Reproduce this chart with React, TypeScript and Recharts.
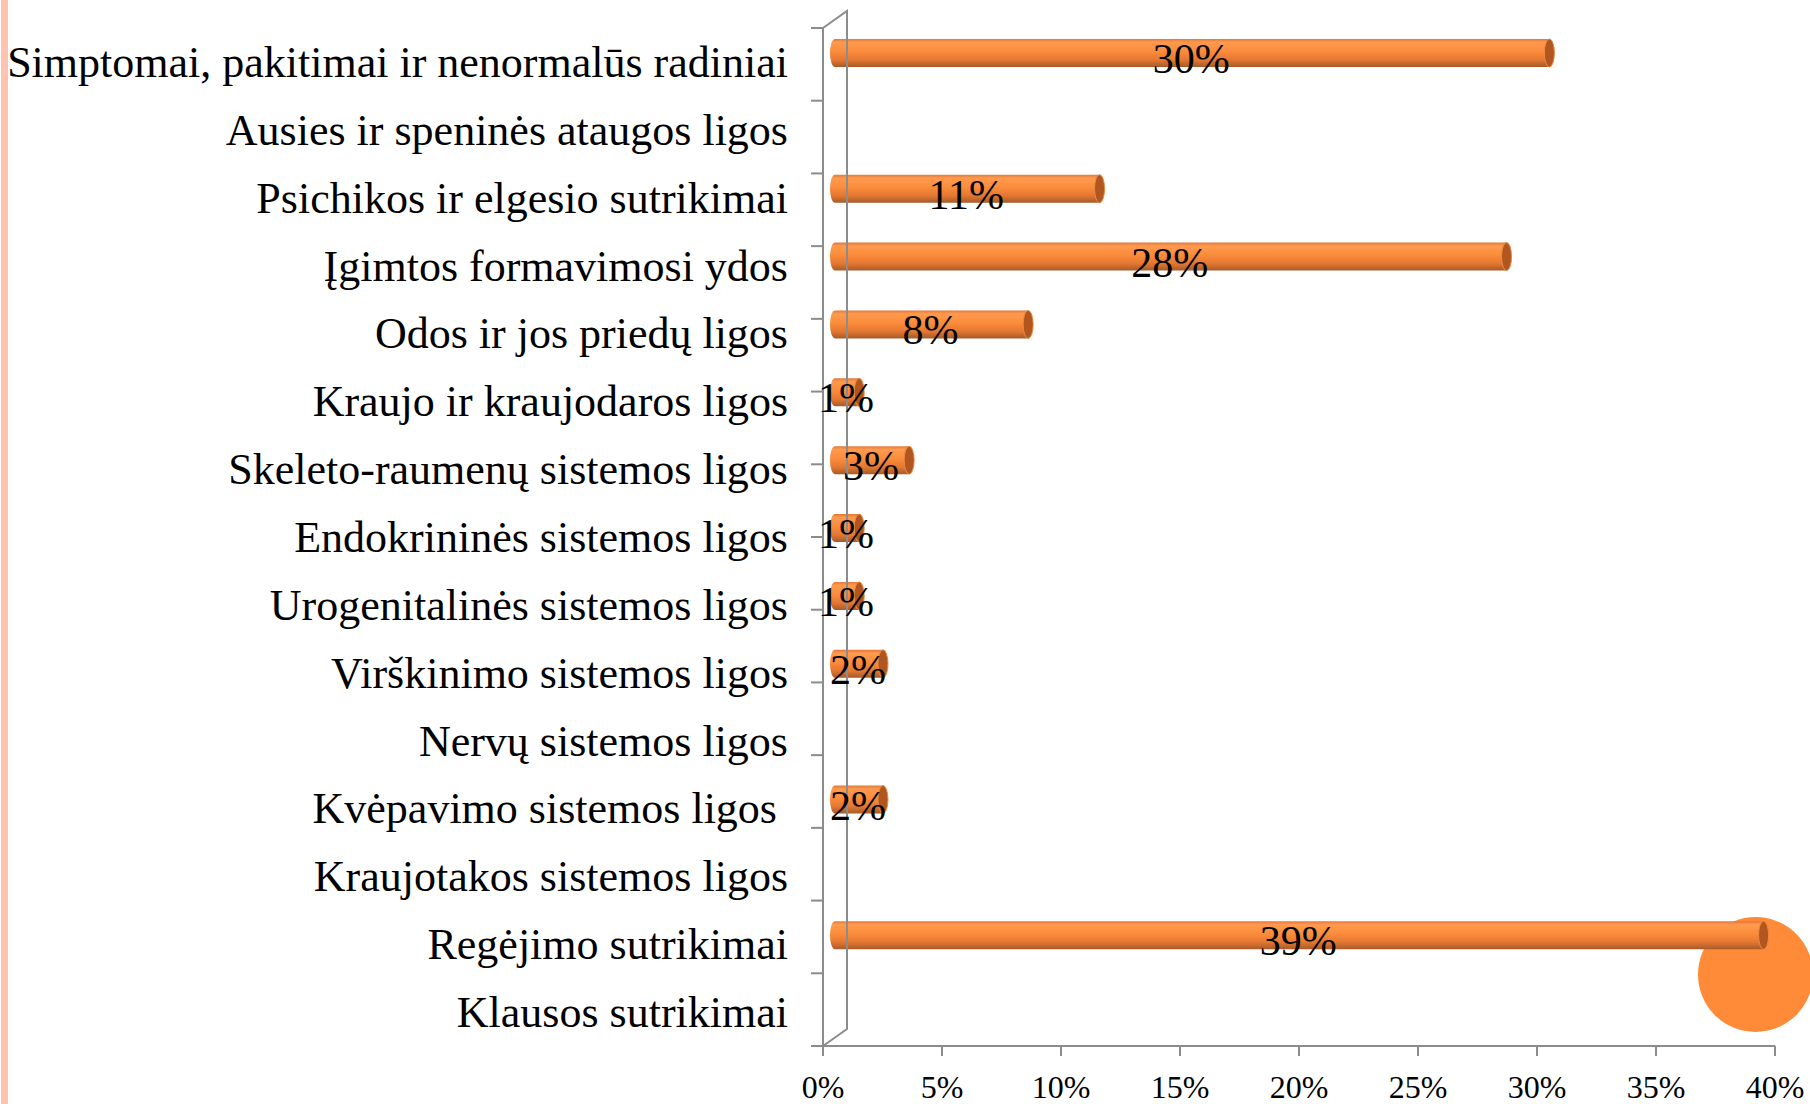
import { BarChart, Bar, XAxis, YAxis, LabelList, ReferenceLine } from 'recharts'

// categories top to bottom, as in the slide
const categories = [
  'Simptomai, pakitimai ir nenormalūs radiniai',
  'Ausies ir speninės ataugos ligos',
  'Psichikos ir elgesio sutrikimai',
  'Įgimtos formavimosi ydos',
  'Odos ir jos priedų ligos',
  'Kraujo ir kraujodaros ligos',
  'Skeleto-raumenų sistemos ligos',
  'Endokrininės sistemos ligos',
  'Urogenitalinės sistemos ligos',
  'Virškinimo sistemos ligos',
  'Nervų sistemos ligos',
  'Kvėpavimo sistemos ligos\u00a0',
  'Kraujotakos sistemos ligos',
  'Regėjimo sutrikimai',
  'Klausos sutrikimai',
]

// share of children, %
const shares = [30.1, 0, 11.2, 28.3, 8.2, 1.1, 3.2, 1.1, 1.1, 2.1, 0, 2.1, 0, 39.1, 0]

const xTicks = [0, 5, 10, 15, 20, 25, 30, 35, 40]
const boundaryTicks = [0, 1, 2, 3, 4, 5, 6, 7, 8, 9, 10, 11, 12, 13, 14, 15]

const data = categories.map((name, i) => ({ name, value: shares[i] }))

const FONT = '"Liberation Serif", "Times New Roman", serif'
const AXIS = '#8C8C8C'
const DEPTH_X = 24
const DEPTH_Y = -17

function Cylinder(props: any) {
  const { x, y, width, height } = props
  if (!width || width <= 0) return null
  const x0 = x + 12
  const x1 = x + width + 10
  const top = y - 9
  const h = height
  const rx = 5
  const ry = h / 2
  return (
    <g>
      <path
        d={`M${x0},${top} L${x1},${top} L${x1},${top + h} L${x0},${top + h} A${rx},${ry} 0 0 1 ${x0},${top} Z`}
        fill="url(#cylFill)"
      />
      <ellipse cx={x1} cy={top + ry} rx={rx} ry={ry} fill="#B0561E" stroke="#E98A45" strokeWidth={1} />
    </g>
  )
}

function BarLabel(props: any) {
  const { x, y, width, height, value } = props
  if (!value) return null
  return (
    <text
      x={Number(x) + 10 + Number(width) / 2}
      y={Number(y) + Number(height) / 2 + 11}
      textAnchor="middle"
      fontFamily={FONT}
      fontSize={42}
      fill="#000"
    >
      {Math.round(value)}%
    </text>
  )
}

function CategoryTick({ x, y, payload }: any) {
  return (
    <text x={x} y={y + 15} textAnchor="end" fontFamily={FONT} fontSize={44} fill="#000">
      {payload.value}
    </text>
  )
}

function PercentTick({ x, y, payload }: any) {
  return (
    <text x={x} y={y + 40} textAnchor="middle" fontFamily={FONT} fontSize={32} fill="#000">
      {payload.value}%
    </text>
  )
}

function BackWall(props: any) {
  const { x1, y1, y2 } = props
  const top = Math.min(y1, y2)
  const bot = Math.max(y1, y2)
  return (
    <path
      d={`M${x1},${top} L${x1 + DEPTH_X},${top + DEPTH_Y} L${x1 + DEPTH_X},${bot + DEPTH_Y} L${x1},${bot}`}
      fill="none"
      stroke={AXIS}
      strokeWidth={2}
    />
  )
}

export default function App() {
  return (
    <div
      style={{
        position: 'absolute',
        left: 0,
        top: 0,
        width: 1810,
        height: 1104,
        overflow: 'hidden',
        background: '#FFFFFF',
      }}
    >
      <div style={{ position: 'absolute', left: 1, top: 0, width: 7, height: 1104, background: '#FFC4B1' }} />
      <div
        style={{
          position: 'absolute',
          left: 1698,
          top: 917,
          width: 115,
          height: 115,
          borderRadius: '50%',
          background: '#FF8A38',
        }}
      />
      <div style={{ position: 'absolute', left: 0, top: 0 }}>
        <BarChart
          width={1810}
          height={1104}
          data={data}
          layout="vertical"
          margin={{ top: 28, right: 35, bottom: 0, left: 0 }}
        >
          <defs>
            <linearGradient id="cylFill" x1="0" y1="0" x2="0" y2="1">
              <stop offset="0%" stopColor="#E3783A" />
              <stop offset="12%" stopColor="#FF9A4E" />
              <stop offset="45%" stopColor="#FB8C3C" />
              <stop offset="75%" stopColor="#E47731" />
              <stop offset="100%" stopColor="#A55A2A" />
            </linearGradient>
          </defs>
          <XAxis
            type="number"
            domain={[0, 40]}
            ticks={xTicks}
            interval={0}
            height={58}
            axisLine={{ stroke: AXIS, strokeWidth: 2 }}
            tickLine={{ stroke: AXIS, strokeWidth: 2 }}
            tickSize={10}
            tick={<PercentTick />}
          />
          <YAxis
            yAxisId="a_bounds"
            type="number"
            domain={[0, 15]}
            ticks={boundaryTicks}
            interval={0}
            width={1}
            axisLine={{ stroke: AXIS, strokeWidth: 2 }}
            tickLine={{ stroke: AXIS, strokeWidth: 2 }}
            tickSize={12}
            tick={() => <g />}
          />
          <YAxis
            yAxisId="b_cat"
            type="category"
            dataKey="name"
            interval={0}
            width={822}
            axisLine={false}
            tickLine={false}
            tickSize={0}
            tickMargin={34}
            tick={<CategoryTick />}
          />
          <ReferenceLine x={0} yAxisId="b_cat" shape={<BackWall />} />
          <Bar
            dataKey="value"
            yAxisId="b_cat"
            barSize={28}
            shape={<Cylinder />}
            isAnimationActive={false}
          >
            <LabelList dataKey="value" content={<BarLabel />} />
          </Bar>
        </BarChart>
      </div>
    </div>
  )
}
